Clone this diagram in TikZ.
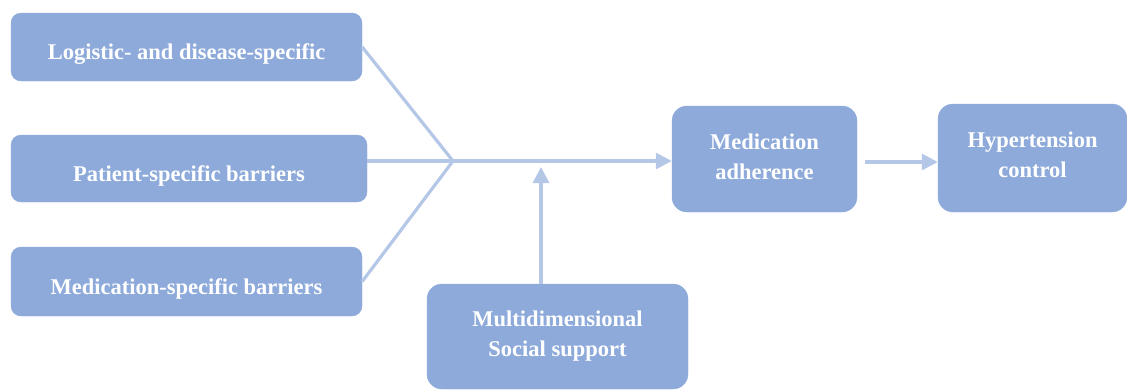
\documentclass[tikz,border=0pt]{standalone}
\usepackage{fontspec}
\setmainfont{Liberation Serif}
\usetikzlibrary{arrows.meta}
\definecolor{boxfill}{HTML}{8EAADB}
\definecolor{linec}{HTML}{B4C7E7}
\tikzset{
  box/.style={fill=boxfill, draw=boxfill, rounded corners=10pt, text=white,
    font=\bfseries\fontsize{22.5}{30}\selectfont, align=center, inner sep=0pt},
  onebox/.style={box, text height=25pt, text depth=0pt},
  conn/.style={draw=linec, line width=3.2pt},
  arr/.style={conn, -{Triangle[length=16pt,width=16pt]}}
}
\begin{document}
\begin{tikzpicture}[x=1pt,y=-1pt]
\useasboundingbox (0,0) rectangle (1127,389);
\clip (0,0) rectangle (1127,389);
\node[onebox, minimum width=351pt, minimum height=68pt] (b1) at (186.5,47) {Logistic- and disease-specific};
\node[onebox, minimum width=356pt, minimum height=67pt] (b2) at (189,168.5) {Patient-specific barriers};
\node[onebox, minimum width=351pt, minimum height=69pt] (b3) at (186.5,281.5) {Medication-specific barriers};
\node[box, rounded corners=15pt, minimum width=185pt, minimum height=106pt, text height=40pt, text depth=0pt] (m) at (764.5,159) {Medication\\adherence};
\node[box, rounded corners=15pt, minimum width=189pt, minimum height=108pt, text height=38pt, text depth=0pt] (h) at (1032.5,158) {Hypertension\\control};
\node[box, rounded corners=15pt, minimum width=261pt, minimum height=105pt, text height=39pt, text depth=0pt] (s) at (557.5,336.5) {Multidimensional\\Social support};
\coordinate (J) at (453,161);
\coordinate (vt) at (541,167);
\coordinate (q) at (865,162);
\draw[conn] (b1.east) -- (J);
\draw[conn] (b2.east |- J) -- (J);
\draw[conn] (b3.east) -- (J);
\draw[arr] (J) -- (J -| m.west);
\draw[arr] (vt |- s.north) -- (vt);
\draw[arr] (q) -- (q -| h.west);
\end{tikzpicture}
\end{document}
